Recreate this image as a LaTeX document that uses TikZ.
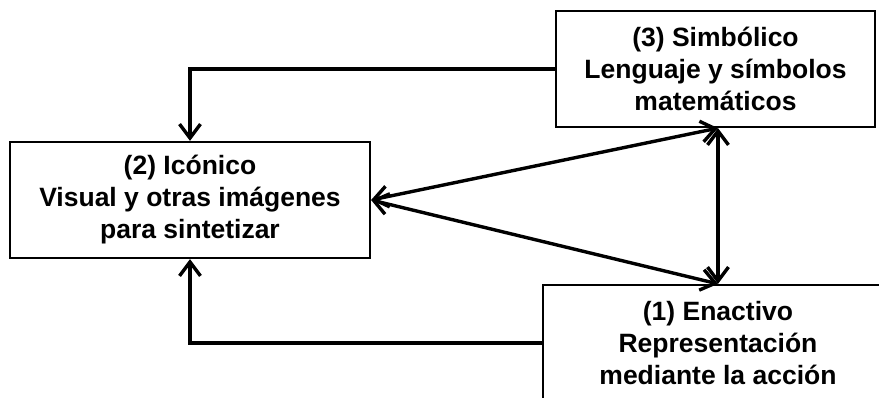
\documentclass[tikz,border=0pt]{standalone}
\usepackage{fontspec}
\setmainfont{Liberation Sans}
\usetikzlibrary{arrows.meta}
\begin{document}
\begin{tikzpicture}[x=1pt,y=-1pt,
  boxst/.style={draw,line width=2.2pt,align=center,inner sep=0pt,
    font=\fontsize{26.5}{32}\selectfont\bfseries},
  tip/.style={Straight Barb[length=14pt,width=21pt,line width=3.4pt]},
  arr/.style={line width=3.4pt,-{Straight Barb[length=14pt,width=21pt,line width=3.4pt]}},
  darr/.style={line width=3.4pt,{Straight Barb[length=14pt,width=21pt,line width=3.4pt]}-{Straight Barb[length=14pt,width=21pt,line width=3.4pt]}}]
\useasboundingbox (0,0) rectangle (879,398);
\clip (0,0) rectangle (879,398);
\node[boxst,minimum width=319pt,minimum height=116pt] (b3) at (715.5,69) {(3) Simbólico\\Lenguaje y símbolos\\matemáticos};
\node[boxst,minimum width=360pt,minimum height=116pt] (b2) at (190,200) {(2) Icónico\\Visual y otras imágenes\\para sintetizar};
\node[boxst,minimum width=350pt,minimum height=116pt] (b1) at (718,343) {(1) Enactivo\\Representación\\mediante la acción};
\coordinate (t) at (b3.south -| b1.north);
\draw[arr] (b3.west) -| (b2.north);
\draw[arr] (b1.west) -| (b2.south);
\draw[darr] (b2.east) -- (t);
\draw[darr] (b2.east) -- (b1.north);
\draw[darr] (t) -- (b1.north);
\end{tikzpicture}
\end{document}
